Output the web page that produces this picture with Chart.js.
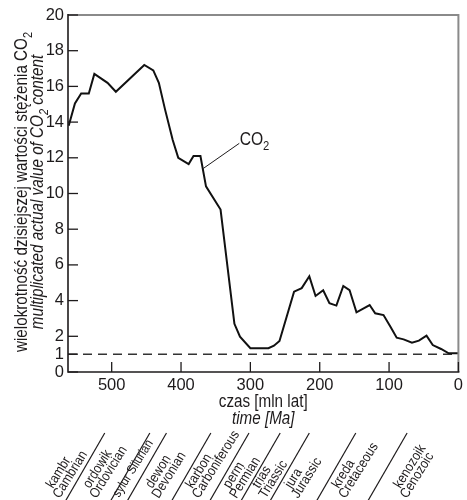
<!DOCTYPE html>
<html>
<head>
<meta charset="utf-8">
<script src="https://cdn.jsdelivr.net/npm/chart.js@4.4.1/dist/chart.umd.min.js"></script>
<style>
  html, body { margin: 0; padding: 0; background: #ffffff; }
  canvas { display: block; }
</style>
</head>
<body>
<canvas id="c" width="467" height="500"></canvas>
<script>
// ---- data ----
const co2Age   = [562, 553, 544, 533, 525, 506, 494, 453, 440, 432, 423, 412, 404, 389, 382, 372, 364, 343, 323, 315, 300, 274, 266, 258, 237, 226, 215, 206, 195, 186, 176, 166, 157, 147, 128, 120, 108, 98, 89, 79, 67, 57, 46, 37, 25, 14, 0];
const co2Value = [13.8, 15.05, 15.6, 15.6, 16.7, 16.2, 15.7, 17.2, 16.9, 16.2, 14.7, 13.0, 12.0, 11.65, 12.1, 12.1, 10.4, 9.1, 2.7, 1.98, 1.33, 1.33, 1.47, 1.74, 4.5, 4.7, 5.36, 4.26, 4.58, 3.85, 3.72, 4.82, 4.59, 3.34, 3.75, 3.29, 3.19, 2.54, 1.92, 1.83, 1.64, 1.76, 2.04, 1.51, 1.29, 1.05, 1.05];
const baselineAge   = [563, 0];
const baselineValue = [1, 1];
const xTickValues = [500, 400, 300, 200, 100, 0];
const yTickValues = [0, 1, 2, 4, 6, 8, 10, 12, 14, 16, 18, 20];
const periodPolish  = ['kambr', 'ordowik', 'sylur', 'dewon', 'karbon', 'perm', 'trias', 'jura', 'kreda', 'kenozoik'];
const periodEnglish = ['Cambrian', 'Ordovician', 'Silurian', 'Devonian', 'Carboniferous', 'Permian', 'Triassic', 'Jurassic', 'Cretaceous', 'Cenozoic'];
const periodSingleLine = [false, false, true, false, false, false, false, false, false, false];
const periodLabelAge = [575, 522, 487, 432, 374, 320, 278, 231, 163, 74];
const periodBoundaryAge = [510, 445, 421, 357, 302, 257, 215, 148, 74];
const co2LabelAt = [315.5, 12.72];
const co2LeaderFrom = [368, 11.4];
const co2LeaderTo = [316, 12.81];

const FONT = "'Liberation Sans', Arial, sans-serif";
const SX = 0.87;            // horizontal condensing for drawn text
const INK = '#1e1b1c';

function setFont(ctx, size, italic) {
  ctx.font = (italic ? 'italic ' : '') + size + 'px ' + FONT;
}
function richWidth(ctx, parts, size, italic) {
  let w = 0;
  parts.forEach(p => {
    const sub = typeof p === 'object';
    setFont(ctx, sub ? size * 0.72 : size, italic);
    w += ctx.measureText(sub ? p.sub : p).width;
  });
  return w * SX;
}
function drawRich(ctx, parts, x, y, size, italic, align) {
  const w = richWidth(ctx, parts, size, italic);
  const sx0 = align === 'center' ? x - w / 2 : (align === 'right' ? x - w : x);
  ctx.save();
  ctx.translate(sx0, y);
  ctx.scale(SX, 1);
  ctx.textAlign = 'left';
  ctx.textBaseline = 'alphabetic';
  let cx = 0;
  parts.forEach(p => {
    const sub = typeof p === 'object';
    setFont(ctx, sub ? size * 0.72 : size, italic);
    const t = sub ? p.sub : p;
    ctx.fillText(t, cx, sub ? size * 0.28 : 0);
    cx += ctx.measureText(t).width;
  });
  ctx.restore();
}

const decorPlugin = {
  id: 'decor',
  afterDraw(chart) {
    const ctx = chart.ctx, xs = chart.scales.x, ys = chart.scales.y, a = chart.chartArea;
    ctx.save();
    // frame
    ctx.strokeStyle = '#8a8a8a'; ctx.lineWidth = 2;
    ctx.beginPath(); ctx.moveTo(a.left, a.top); ctx.lineTo(a.right, a.top); ctx.lineTo(a.right, a.bottom); ctx.stroke();
    ctx.strokeStyle = INK; ctx.lineWidth = 1.6;
    ctx.beginPath(); ctx.moveTo(a.left, a.top - 1); ctx.lineTo(a.left, a.bottom); ctx.lineTo(a.right + 1, a.bottom); ctx.stroke();
    // inside ticks
    ctx.lineWidth = 1.3;
    yTickValues.forEach(v => {
      const py = ys.getPixelForValue(v);
      ctx.beginPath(); ctx.moveTo(a.left, py); ctx.lineTo(a.left + 10, py); ctx.stroke();
    });
    xTickValues.forEach(v => {
      const px = xs.getPixelForValue(v);
      ctx.beginPath(); ctx.moveTo(px, a.bottom); ctx.lineTo(px, a.bottom - 10); ctx.stroke();
    });
    ctx.fillStyle = INK;
    // y title
    ctx.save();
    ctx.translate(27, 192); ctx.rotate(-Math.PI / 2);
    drawRich(ctx, ['wielokrotność dzisiejszej wartości stężenia CO', {sub: '2'}], 0, 0, 17.5, false, 'center');
    ctx.restore();
    ctx.save();
    ctx.translate(43, 192); ctx.rotate(-Math.PI / 2);
    drawRich(ctx, ['multiplicated actual value of CO', {sub: '2'}, ' content'], 0, 0, 17.5, true, 'center');
    ctx.restore();
    // x title
    const mid = (a.left + a.right) / 2;
    drawRich(ctx, ['czas [mln lat]'], mid, 407, 17.5, false, 'center');
    drawRich(ctx, ['time [Ma]'], mid, 424, 17.5, true, 'center');
    // CO2 label + leader
    ctx.lineWidth = 1;
    ctx.beginPath();
    ctx.moveTo(xs.getPixelForValue(co2LeaderFrom[0]), ys.getPixelForValue(co2LeaderFrom[1]));
    ctx.lineTo(xs.getPixelForValue(co2LeaderTo[0]), ys.getPixelForValue(co2LeaderTo[1]));
    ctx.stroke();
    drawRich(ctx, ['CO', {sub: '2'}], xs.getPixelForValue(co2LabelAt[0]), ys.getPixelForValue(co2LabelAt[1]), 18, false, 'left');
    // period separators
    ctx.lineWidth = 1.2;
    const sepAng = 60 * Math.PI / 180;
    periodBoundaryAge.forEach(age => {
      const x0 = xs.getPixelForValue(age), y0 = 433;
      const dy = 75;
      ctx.beginPath(); ctx.moveTo(x0, y0); ctx.lineTo(x0 - dy / Math.tan(sepAng), y0 + dy); ctx.stroke();
    });
    // period labels
    const ang = -58 * Math.PI / 180;
    periodEnglish.forEach((en, i) => {
      const x0 = xs.getPixelForValue(periodLabelAge[i]);
      ctx.save();
      ctx.translate(x0, 499);
      ctx.rotate(ang);
      if (periodSingleLine[i]) {
        drawRich(ctx, [periodPolish[i] + ' ' + en], 0, -2, 13, false, 'left');
      } else {
        drawRich(ctx, [periodPolish[i]], 5, -11, 14, false, 'left');
        drawRich(ctx, [en], 0, 0, 14, false, 'left');
      }
      ctx.restore();
    });
    ctx.restore();
  }
};

new Chart(document.getElementById('c'), {
  type: 'line',
  data: {
    datasets: [
      {
        label: 'CO2',
        data: co2Age.map((x, i) => ({x: x, y: co2Value[i]})),
        borderColor: '#111111', borderWidth: 2, pointRadius: 0, tension: 0, fill: false
      },
      {
        label: 'baseline',
        data: baselineAge.map((x, i) => ({x: x, y: baselineValue[i]})),
        borderColor: '#333333', borderWidth: 1.5, borderDash: [9, 6], pointRadius: 0, fill: false
      }
    ]
  },
  options: {
    responsive: false,
    animation: false,
    layout: { padding: { top: 15, right: 3, left: 0, bottom: 0 } },
    plugins: { legend: { display: false }, tooltip: { enabled: false } },
    scales: {
      x: {
        type: 'linear', reverse: true, min: 0, max: 563,
        grid: { display: false, drawTicks: false }, border: { display: false },
        ticks: { color: INK, font: { family: FONT, size: 16.5 }, padding: 4, maxRotation: 0, autoSkip: false },
        afterBuildTicks: s => { s.ticks = xTickValues.map(v => ({value: v})); },
        afterFit: s => { s.height = 128; }
      },
      y: {
        type: 'linear', min: 0, max: 20,
        grid: { display: false, drawTicks: false }, border: { display: false },
        ticks: { color: INK, font: { family: FONT, size: 16.5 }, padding: 4, autoSkip: false },
        afterBuildTicks: s => { s.ticks = yTickValues.map(v => ({value: v})); },
        afterFit: s => { s.width = 68; }
      }
    }
  },
  plugins: [decorPlugin]
});
</script>
</body>
</html>
